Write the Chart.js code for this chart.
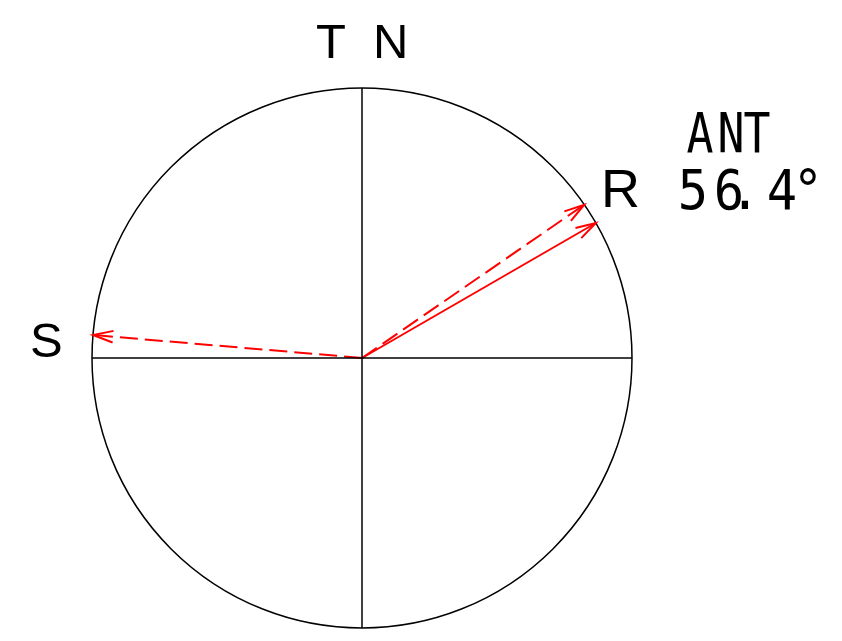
<!DOCTYPE html>
<html>
<head>
<meta charset="utf-8">
<script src="https://cdn.jsdelivr.net/npm/chart.js@4/dist/chart.umd.min.js"></script>
<style>
    body { margin: 0; background: #ffffff; }
    #wrap { width: 842px; height: 641px; }
</style>
</head>
<body>
<div id="wrap"><canvas id="phasorChart" width="842" height="641"></canvas></div>
<script>
// Phasor diagram - vectors drawn on a unit circle

const vectorNames = ['R', 'R2', 'S'];
const vectorAngles = [30.0, 34.6, 175.1];   // degrees, counter-clockwise from east
const vectorLengths = [1, 1, 1];
const vectorDashed = [false, true, true];

const topLabel = ['T', 'N'];
const leftLabel = 'S';
const tipLabel = 'R';
const infoTitle = 'ANT';
const infoValue = '56.4°';

const RED = '#ff0000';

const toXY = (deg, len) => ({
    x: len * Math.cos(deg * Math.PI / 180),
    y: len * Math.sin(deg * Math.PI / 180)
});

const vectorSets = vectorNames.map((name, i) => ({
    label: name,
    data: [{ x: 0, y: 0 }, toXY(vectorAngles[i], vectorLengths[i])],
    showLine: true,
    borderColor: RED,
    borderWidth: 2,
    borderDash: vectorDashed[i] ? [18, 7] : [],
    pointRadius: 0
}));

const axisSets = [
    { label: 'h', data: [{ x: -1, y: 0 }, { x: 1, y: 0 }] },
    { label: 'v', data: [{ x: 0, y: -1 }, { x: 0, y: 1 }] }
].map(d => ({ ...d, showLine: true, borderColor: '#000000', borderWidth: 1.5, pointRadius: 0 }));

// circle outline from the scales
const circlePlugin = {
    id: 'circle',
    beforeDatasetsDraw(chart) {
        const { ctx, scales: { x, y } } = chart;
        const cx = x.getPixelForValue(0);
        const cy = y.getPixelForValue(0);
        const r = x.getPixelForValue(1) - cx;
        ctx.save();
        ctx.strokeStyle = '#000000';
        ctx.lineWidth = 1.5;
        ctx.beginPath();
        ctx.arc(cx, cy, r, 0, Math.PI * 2);
        ctx.stroke();
        ctx.restore();
    }
};

// open arrow heads + text
const arrowPlugin = {
    id: 'arrows',
    afterDatasetsDraw(chart) {
        const { ctx, scales: { x, y } } = chart;
        ctx.save();
        ctx.strokeStyle = RED;
        ctx.lineWidth = 2;
        vectorNames.forEach((n, i) => {
            const p = toXY(vectorAngles[i], vectorLengths[i]);
            const tx = x.getPixelForValue(p.x);
            const ty = y.getPixelForValue(p.y);
            const a = Math.atan2(ty - y.getPixelForValue(0), tx - x.getPixelForValue(0));
            const len = 21, spread = 0.28;
            ctx.beginPath();
            ctx.moveTo(tx - len * Math.cos(a - spread), ty - len * Math.sin(a - spread));
            ctx.lineTo(tx, ty);
            ctx.lineTo(tx - len * Math.cos(a + spread), ty - len * Math.sin(a + spread));
            ctx.stroke();
        });
        ctx.restore();

        // labels
        const cx = x.getPixelForValue(0);
        const top = y.getPixelForValue(1);
        const left = x.getPixelForValue(-1);
        ctx.save();
        ctx.fillStyle = '#000000';
        ctx.textBaseline = 'alphabetic';
        ctx.textAlign = 'left';
        ctx.font = '49px "Liberation Sans", Arial, sans-serif';
        ctx.fillText(topLabel[0], cx - 46, top - 30);
        ctx.fillText(topLabel[1], cx + 11, top - 30);
        ctx.font = '49px "Liberation Sans", Arial, sans-serif';
        ctx.fillText(leftLabel, left - 62, y.getPixelForValue(0) - 1);
        ctx.font = '54px "Liberation Sans", Arial, sans-serif';
        ctx.fillText(tipLabel, 601, 207);

        // narrow monospace block
        ctx.font = '56px "DejaVu Sans Mono", monospace';
        ctx.textAlign = 'center';
        const drawNarrow = (ch, px, py, sx) => {
            ctx.save();
            ctx.translate(px, py);
            ctx.scale(sx, 1);
            ctx.fillText(ch, 0, 0);
            ctx.restore();
        };
        [700, 731, 757].forEach((px, i) => drawNarrow(infoTitle[i], px, 152, 0.8));
        [693, 729, 745, 782, 808].forEach((px, i) => drawNarrow(infoValue[i], px, 209, 0.9));
        ctx.restore();
    }
};

new Chart(document.getElementById('phasorChart'), {
    type: 'scatter',
    data: { datasets: [...axisSets, ...vectorSets] },
    options: {
        responsive: false,
        animation: false,
        layout: { padding: { left: 92, right: 210, top: 88, bottom: 13 } },
        plugins: { legend: { display: false }, tooltip: { enabled: false } },
        scales: {
            x: { display: false, min: -1, max: 1 },
            y: { display: false, min: -1, max: 1 }
        }
    },
    plugins: [circlePlugin, arrowPlugin]
});
</script>
</body>
</html>
